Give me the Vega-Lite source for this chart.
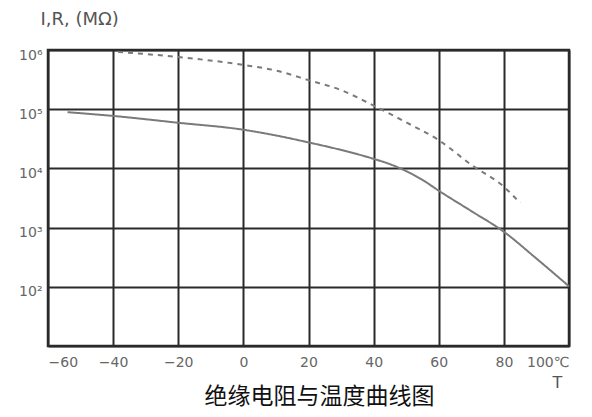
{
  "$schema": "https://vega.github.io/schema/vega-lite/v6.json",
  "width": 521,
  "height": 296,
  "autosize": {"type": "none"},
  "padding": {"left": 48, "top": 50, "right": 23, "bottom": 71},
  "background": "white",
  "config": {
    "view": {"stroke": "#2a2a2a", "strokeWidth": 2.5},
    "axis": {
      "grid": true,
      "gridColor": "#2a2a2a",
      "gridWidth": 2,
      "gridOpacity": 1,
      "domain": false,
      "ticks": false,
      "labelColor": "#666666",
      "labelFont": "DejaVu Sans",
      "labelFontSize": 13,
      "titleFont": "DejaVu Sans",
      "titleColor": "#555555",
      "titleFontWeight": "normal"
    }
  },
  "title": {
    "text": "绝缘电阻与温度曲线图",
    "orient": "bottom",
    "anchor": "middle",
    "frame": "group",
    "font": "Noto Sans CJK SC",
    "fontSize": 23,
    "fontWeight": "normal",
    "color": "#111111",
    "offset": -4,
    "dx": 11
  },
  "data": {
    "values": [
      {"series": "I", "T": -54, "R": 89000},
      {"series": "I", "T": -40, "R": 77000},
      {"series": "I", "T": -20, "R": 59000},
      {"series": "I", "T": 0, "R": 45000},
      {"series": "I", "T": 10, "R": 36000},
      {"series": "I", "T": 20, "R": 27500},
      {"series": "I", "T": 30, "R": 20500},
      {"series": "I", "T": 40, "R": 14500},
      {"series": "I", "T": 45, "R": 11800},
      {"series": "I", "T": 50, "R": 9000},
      {"series": "I", "T": 55, "R": 6400},
      {"series": "I", "T": 60, "R": 4200},
      {"series": "I", "T": 70, "R": 1900},
      {"series": "I", "T": 80, "R": 850},
      {"series": "I", "T": 90, "R": 300},
      {"series": "I", "T": 100, "R": 102},
      {"series": "R", "T": -38.5, "R": 930000},
      {"series": "R", "T": -20, "R": 760000},
      {"series": "R", "T": 0, "R": 560000},
      {"series": "R", "T": 10, "R": 450000},
      {"series": "R", "T": 20, "R": 310000},
      {"series": "R", "T": 30, "R": 210000},
      {"series": "R", "T": 40, "R": 115000},
      {"series": "R", "T": 50, "R": 60000},
      {"series": "R", "T": 60, "R": 30000},
      {"series": "R", "T": 70, "R": 11500},
      {"series": "R", "T": 80, "R": 4900},
      {"series": "R", "T": 85, "R": 2600}
    ]
  },
  "mark": {"type": "line", "strokeWidth": 2, "color": "#7a7a7a", "interpolate": "monotone"},
  "encoding": {
    "x": {
      "field": "T",
      "type": "quantitative",
      "scale": {"domain": [-60, 100], "nice": false, "zero": false},
      "axis": {
        "values": [-60, -40, -20, 0, 20, 40, 60, 80, 100],
        "labelExpr": "datum.value == 100 ? '100℃' : datum.label",
        "labelPadding": 9,
        "labelFontSize": 14,
        "title": "T",
        "titleFontSize": 16,
        "titleX": 509,
        "titleY": 36,
        "titleBaseline": "middle",
        "titleAnchor": null
      }
    },
    "y": {
      "field": "R",
      "type": "quantitative",
      "scale": {"type": "log", "domain": [10, 1000000], "nice": false},
      "axis": {
        "values": [10, 100, 1000, 10000, 100000, 1000000],
        "labelExpr": "datum.value == 1000000 ? '10⁶' : datum.value == 100000 ? '10⁵' : datum.value == 10000 ? '10⁴' : datum.value == 1000 ? '10³' : datum.value == 100 ? '10²' : ''",
        "labelPadding": 6,
        "labelOffset": 5,
        "labelFontSize": 14,
        "title": "I,R, (MΩ)",
        "titleAngle": 0,
        "titleAlign": "left",
        "titleBaseline": "middle",
        "titleFontSize": 18,
        "titleX": -8,
        "titleY": -31
      }
    },
    "strokeDash": {
      "field": "series",
      "type": "nominal",
      "scale": {"domain": ["I", "R"], "range": [[1, 0], [5, 5]]},
      "legend": null
    }
  }
}
